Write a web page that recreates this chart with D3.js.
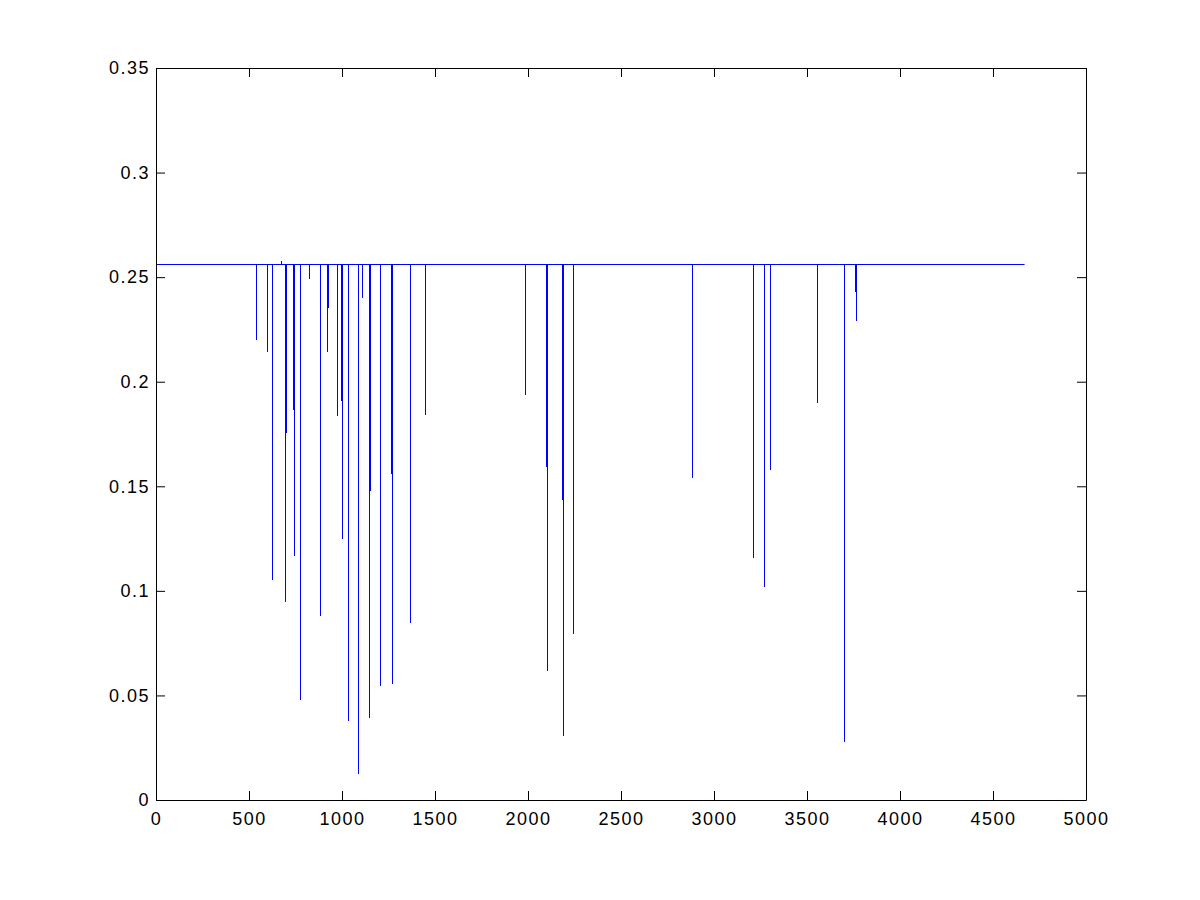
<!DOCTYPE html>
<html>
<head>
<meta charset="utf-8">
<script src="https://cdn.jsdelivr.net/npm/d3@7"></script>
<style>
	body { margin: 0; background: #fff; }
	.tick text { font-family: "Liberation Sans", Arial, sans-serif; font-size: 18px; letter-spacing: 1.5px; fill: #000; }
	.domain, .tick line { stroke: #000; }
</style>
</head>
<body>
<div id="chart"></div>
<script>

// flat level of the signal and its sample range
var base_level= 0.2563;
var x_first= 1;
var x_last= 4670;

// single-sample dips (position, value)
var dip_x= [538, 597, 624, 774, 823, 882, 973, 1032, 1086, 1108, 1204, 1366, 1446,
	1984, 2242, 2882, 3210, 3269, 3301, 3554, 3699];
var dip_val= [0.2198, 0.2141, 0.1052, 0.0479, 0.2489, 0.0880, 0.1835, 0.0379, 0.0126, 0.2398, 0.0546, 0.0847, 0.1840,
	0.1935, 0.0794, 0.1539, 0.1157, 0.1018, 0.1577, 0.1897, 0.0278];

// double dips: a shallow sample next to a deeper one
var pair_shallow_x= [697, 735, 923, 993, 1149, 1262, 2095, 2181, 3756];
var pair_shallow_val= [0.1756, 0.1864, 0.2351, 0.1907, 0.1477, 0.1558, 0.1591, 0.1434, 0.2427];
var pair_deep_x= [692, 740, 918, 998, 1143, 1267, 2100, 2186, 3761];
var pair_deep_val= [0.0947, 0.1167, 0.2141, 0.1248, 0.0393, 0.0555, 0.0617, 0.0307, 0.2289];

// small upward blip
var blip_x= [672];
var blip_val= [0.2578];

var x_ticks= [0, 500, 1000, 1500, 2000, 2500, 3000, 3500, 4000, 4500, 5000];
var y_ticks= [0, 0.05, 0.1, 0.15, 0.2, 0.25, 0.3, 0.35];

function draw_chart() {

	var left= 156, right= 1086, top= 68, bottom= 800;

	var svg= d3.select("#chart")
		.append("svg")
		.attr("width", 1200)
		.attr("height", 900);

	var x= d3.scaleLinear().domain([0, 5000]).range([left, right]);
	var y= d3.scaleLinear().domain([0, 0.35]).range([bottom, top]);

	function px(v) { return Math.round(x(v))+ 0.5; }
	function py(v) { return Math.round(y(v)); }

	var segs= [];
	dip_x.forEach(function(d, i) { segs.push({x: d, v: dip_val[i]}); });
	pair_shallow_x.forEach(function(d, i) { segs.push({x: d, v: pair_shallow_val[i]}); });
	pair_deep_x.forEach(function(d, i) { segs.push({x: d, v: pair_deep_val[i]}); });
	blip_x.forEach(function(d, i) { segs.push({x: d, v: blip_val[i]}); });

	var plot= svg.append("g");

	plot.append("line")
		.attr("x1", x(x_first))
		.attr("x2", x(x_last))
		.attr("y1", py(base_level)+ 0.5)
		.attr("y2", py(base_level)+ 0.5)
		.attr("stroke", "#0000ff")
		.attr("stroke-width", 1);

	plot.selectAll("line.dip")
		.data(segs)
		.enter().append("line")
			.attr("class", "dip")
			.attr("x1", function(d) { return px(d.x); })
			.attr("x2", function(d) { return px(d.x); })
			.attr("y1", py(base_level))
			.attr("y2", function(d) { return py(d.v); })
			.attr("stroke", "#0000ff")
			.attr("stroke-width", 1);

	// MATLAB style box: inward ticks on every side, labels on left and bottom
	svg.append("g")
		.attr("transform", "translate(0," + bottom + ")")
		.call(d3.axisBottom(x).tickValues(x_ticks).tickFormat(d3.format("d"))
			.tickSizeInner(-9).tickSizeOuter(0).tickPadding(12));

	svg.append("g")
		.attr("transform", "translate(" + left + ",0)")
		.call(d3.axisLeft(y).tickValues(y_ticks).tickFormat(function(d) { return d3.format("")(+d.toFixed(2)); })
			.tickSizeInner(-9).tickSizeOuter(0).tickPadding(6));

	svg.append("g")
		.attr("transform", "translate(0," + top + ")")
		.call(d3.axisTop(x).tickValues(x_ticks).tickFormat("")
			.tickSizeInner(-9).tickSizeOuter(0));

	svg.append("g")
		.attr("transform", "translate(" + right + ",0)")
		.call(d3.axisRight(y).tickValues(y_ticks).tickFormat("")
			.tickSizeInner(-9).tickSizeOuter(0));

	svg.selectAll(".domain").attr("stroke-width", 1);
};

draw_chart();
</script>
</body>
</html>
